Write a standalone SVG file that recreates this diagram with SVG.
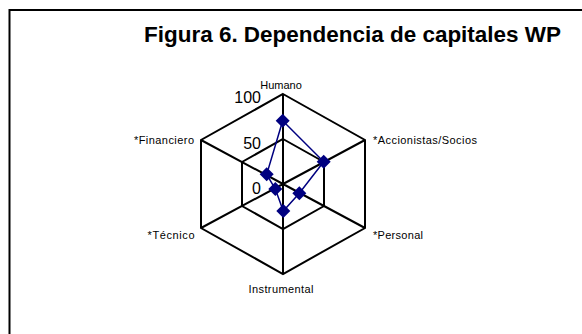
<svg xmlns="http://www.w3.org/2000/svg" width="582" height="334" viewBox="0 0 582 334">
<style>
.grid{fill:none;stroke:#000;stroke-width:2;stroke-linejoin:miter}
.lbl{font-family:"Liberation Sans",Arial,sans-serif;font-size:11px;fill:#000}
.tick{font-family:"Liberation Sans",Arial,sans-serif;font-size:16px;fill:#000}
.title{font-family:"Liberation Sans",Arial,sans-serif;font-size:22px;font-weight:bold;fill:#000}
.series{fill:none;stroke:#000080;stroke-width:1.5;stroke-linejoin:miter}
.pt{fill:#000080}
</style>
<defs>
<path id="dia" d="M0,-7 L7,0 L0,7 L-7,0 Z"/>
</defs>
<rect x="9.5" y="10" width="600" height="340" fill="#fff" stroke="#000" stroke-width="2"/>
<text class="title" x="144" y="42" textLength="417" lengthAdjust="spacingAndGlyphs">Figura 6. Dependencia de capitales WP</text>
<g id="grid">
<polygon class="grid" points="283,94 365,140 365,228 283,274 201,228 201,140"/>
<polygon class="grid" points="283,139 324,162 324,206 283,229 242,206 242,162"/>
<path class="grid" d="M283,184 L283,94 M283,184 L365,140 M283,184 L365,228 M283,184 L283,274 M283,184 L201,228 M283,184 L201,140"/>
</g>
<g id="ticks">
<text class="tick" x="261" y="103" text-anchor="end">100</text>
<text class="tick" x="261" y="148.5" text-anchor="end">50</text>
<text class="tick" x="261" y="193.5" text-anchor="end">0</text>
</g>
<g id="labels">
<g id="humano"><text class="lbl" x="281" y="89" text-anchor="middle">Humano</text></g>
<g id="accionistas"><text class="lbl" x="373" y="144" textLength="104" lengthAdjust="spacing">*Accionistas/Socios</text></g>
<g id="personal"><text class="lbl" x="373" y="239" textLength="50" lengthAdjust="spacing">*Personal</text></g>
<g id="instrumental"><text class="lbl" x="248.5" y="293" textLength="65" lengthAdjust="spacing">Instrumental</text></g>
<g id="tecnico"><text class="lbl" x="147.5" y="239" textLength="47" lengthAdjust="spacing">*Técnico</text></g>
<g id="financiero"><text class="lbl" x="134" y="144" textLength="60" lengthAdjust="spacing">*Financiero</text></g>
</g>
<g id="connectors">
<polygon class="series" points="282.7,120.7 323.7,161.7 299.3,193.3 283.3,211 275.3,189 266.7,174.3"/>
</g>
<g id="points">
<use href="#dia" class="pt" x="282.7" y="120.7"/>
<use href="#dia" class="pt" x="323.7" y="161.7"/>
<use href="#dia" class="pt" x="299.3" y="193.3"/>
<use href="#dia" class="pt" x="283.3" y="211"/>
<use href="#dia" class="pt" x="275.3" y="189"/>
<use href="#dia" class="pt" x="266.7" y="174.3"/>
</g>
</svg>
